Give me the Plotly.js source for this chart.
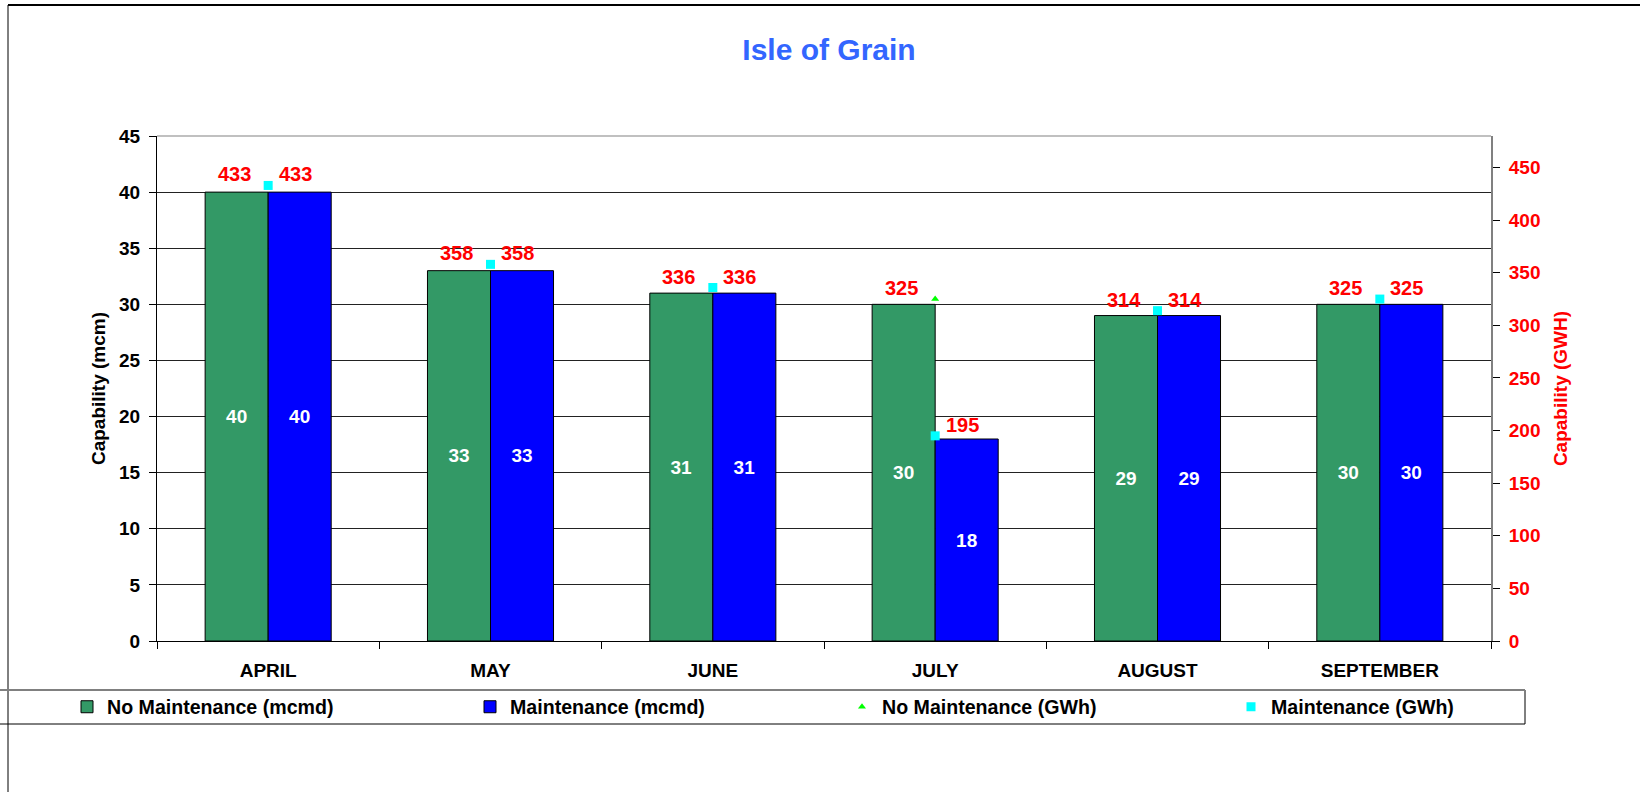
<!DOCTYPE html>
<html>
<head>
<meta charset="utf-8">
<script src="https://cdn.plot.ly/plotly-3.0.1.min.js"></script>
<style>html,body{margin:0;padding:0;background:#fff;}#chart{width:1640px;height:792px;}</style>
</head>
<body>
<div id="chart"></div>
<script>
const months = ["APRIL", "MAY", "JUNE", "JULY", "AUGUST", "SEPTEMBER"];
const noMaintMcmd = [40, 33, 31, 30, 29, 30];
const maintMcmd = [40, 33, 31, 18, 29, 30];
const noMaintGWh = [433, 358, 336, 325, 314, 325];
const maintGWh = [433, 358, 336, 195, 314, 325];
const leftTicks = [0, 5, 10, 15, 20, 25, 30, 35, 40, 45];
const rightTicks = [0, 50, 100, 150, 200, 250, 300, 350, 400, 450];

const FONT = "Liberation Sans, Arial, sans-serif";
const W = 1640, H = 792;
const M = {l: 157, r: 149, t: 136, b: 151};
const PW = W - M.l - M.r, PH = H - M.t - M.b;
const px = x => (x - M.l) / PW;
const py = y => (H - M.b - y) / PH;

const traces = [
  {type: "bar", name: "No Maintenance (mcmd)", x: months, y: noMaintMcmd, legend: "legend",
   text: noMaintMcmd.map(String), textposition: "inside", insidetextanchor: "middle",
   textangle: 0, constraintext: "none",
   textfont: {color: "#ffffff", size: 19, family: FONT, weight: "bold"},
   marker: {color: "#339966", line: {color: "#000000", width: 1}}, hoverinfo: "skip"},
  {type: "bar", name: "Maintenance (mcmd)", x: months, y: maintMcmd, legend: "legend2",
   text: maintMcmd.map(String), textposition: "inside", insidetextanchor: "middle",
   textangle: 0, constraintext: "none",
   textfont: {color: "#ffffff", size: 19, family: FONT, weight: "bold"},
   marker: {color: "#0000FF", line: {color: "#000000", width: 1}}, hoverinfo: "skip"},
  {type: "scatter", mode: "markers", name: "No Maintenance (GWh)", x: months, y: noMaintGWh, legend: "legend3",
   yaxis: "y2", marker: {symbol: "triangle-up", color: "#00FF00", size: 7}, hoverinfo: "skip"},
  {type: "scatter", mode: "markers", name: "Maintenance (GWh)", x: months, y: maintGWh, legend: "legend4",
   yaxis: "y2", marker: {symbol: "square", color: "#00FFFF", size: 9}, hoverinfo: "skip"}
];

const LBL = {color: "#FF0000", size: 20, family: FONT, weight: "bold"};
const annotations = [];
months.forEach((m, i) => {
  annotations.push({x: m, y: noMaintGWh[i], xref: "x", yref: "y2", text: String(noMaintGWh[i]),
    showarrow: false, xshift: -34, yshift: 11, font: LBL});
  annotations.push({x: m, y: maintGWh[i], xref: "x", yref: "y2", text: String(maintGWh[i]),
    showarrow: false, xshift: 27, yshift: 11, font: LBL});
});

const shapes = [
  {type: "line", xref: "paper", yref: "paper", x0: px(8), x1: px(1640), y0: py(5), y1: py(5),
   line: {color: "#000000", width: 2}},
  {type: "line", xref: "paper", yref: "paper", x0: px(8), x1: px(8), y0: py(5), y1: py(792),
   line: {color: "#000000", width: 1}},
  {type: "line", xref: "paper", yref: "paper", x0: 0, x1: 1, y0: 1, y1: 1,
   line: {color: "#C0C0C0", width: 2}, layer: "above"},
  {type: "rect", xref: "paper", yref: "paper", x0: px(-5), x1: px(1525), y0: py(724), y1: py(690),
   line: {color: "#000000", width: 1}, fillcolor: "rgba(0,0,0,0)"},
  {type: "line", xref: "paper", yref: "paper", x0: px(-5), x1: px(1525), y0: py(690), y1: py(690),
   line: {color: "#808080", width: 2}}
];

const legendBase = x => ({orientation: "h", x: px(x), xanchor: "left", y: py(707), yanchor: "middle",
  bgcolor: "rgba(0,0,0,0)", borderwidth: 0,
  font: {family: FONT, size: 19.6, color: "#000000", weight: "bold"}});

const layout = {
  width: W, height: H,
  margin: M,
  paper_bgcolor: "#ffffff", plot_bgcolor: "#ffffff",
  font: {family: FONT, size: 19, color: "#000000", weight: "bold"},
  title: {text: "Isle of Grain", font: {family: FONT, size: 30, color: "#3366FF", weight: "bold"},
          xref: "container", x: 829 / W, xanchor: "center", yref: "container", y: 1 - 49 / H, yanchor: "middle"},
  barmode: "group", bargap: 0.433, bargroupgap: 0,
  showlegend: true,
  legend: legendBase(67),
  legend2: legendBase(470),
  legend3: legendBase(842),
  legend4: legendBase(1231),
  xaxis: {type: "category", showgrid: false, showline: true, linecolor: "#000000", linewidth: 1,
          ticks: "outside", tickson: "boundaries", ticklen: 7, tickcolor: "#000000",
          ticklabelstandoff: 12,
          tickfont: {family: FONT, size: 19, color: "#000000", weight: "bold"}, fixedrange: true},
  yaxis: {range: [0, 45], tickvals: leftTicks, ticktext: leftTicks.map(String),
          showgrid: true, gridcolor: "#222222", gridwidth: 1, zeroline: false,
          showline: true, linecolor: "#000000", linewidth: 1,
          ticks: "outside", ticklen: 7, tickcolor: "#000000", ticklabelstandoff: 5,
          tickfont: {family: FONT, size: 19, color: "#000000", weight: "bold"},
          title: {text: "Capability (mcm)", standoff: 8, font: {family: FONT, size: 19, color: "#000000", weight: "bold"}},
          automargin: false, fixedrange: true},
  yaxis2: {overlaying: "y", side: "right", range: [0, 480], tickvals: rightTicks, ticktext: rightTicks.map(String),
           showgrid: false, zeroline: false, showline: true, linecolor: "#808080", linewidth: 2,
           ticks: "outside", ticklen: 7, tickcolor: "#000000", ticklabelstandoff: 5,
           tickfont: {family: FONT, size: 19, color: "#FF0000", weight: "bold"},
           title: {text: "Capability (GWH)", standoff: 14, font: {family: FONT, size: 19, color: "#FF0000", weight: "bold"}},
           automargin: false, fixedrange: true},
  annotations: annotations,
  shapes: shapes
};

Plotly.newPlot("chart", traces, layout, {displayModeBar: false, staticPlot: true});
</script>
</body>
</html>
